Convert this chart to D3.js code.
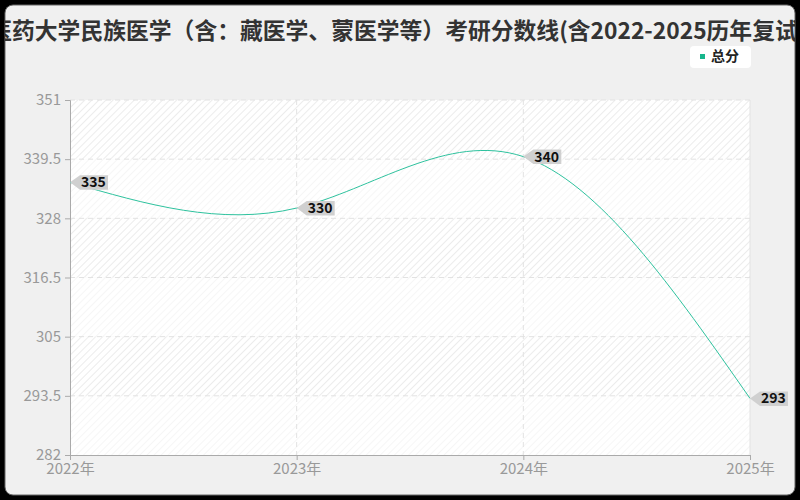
<!DOCTYPE html>
<html>
<head>
<meta charset="utf-8">
<script src="https://cdn.jsdelivr.net/npm/d3@7"></script>
<style>
  body { margin: 0; background: #000; }
  svg { display: block; font-family: "Noto Sans CJK SC", "Noto Sans", sans-serif; }
</style>
</head>
<body>
<div id="vis"></div>
<script>
// Chart data
const YEARS = ["2022年", "2023年", "2024年", "2025年"];
const SCORES = [335, 330, 340, 293];
const Y_TICKS = [282, 293.5, 305, 316.5, 328, 339.5, 351];
const SERIES_NAME = "总分";
const TITLE = "成都中医药大学民族医学（含：藏医学、蒙医学等）考研分数线(含2022-2025历年复试)";

// Frame and plot dimensions
const FRAME_WIDTH = 800;
const FRAME_HEIGHT = 500;
const MARGINS = {left: 70, right: 50, top: 100, bottom: 45};
const VIS_WIDTH = FRAME_WIDTH - MARGINS.left - MARGINS.right;
const VIS_HEIGHT = FRAME_HEIGHT - MARGINS.top - MARGINS.bottom;
const LINE_COLOR = "#2ec29e";

const FRAME = d3.select("#vis")
                .append("svg")
                  .attr("width", FRAME_WIDTH)
                  .attr("height", FRAME_HEIGHT);

const defs = FRAME.append("defs");

// hatch patterns for the plot background (strong and light bands)
function addHatch(id, color) {
  const p = defs.append("pattern")
      .attr("id", id)
      .attr("patternUnits", "userSpaceOnUse")
      .attr("width", 5).attr("height", 5)
      .attr("patternTransform", "rotate(45)");
  p.append("rect").attr("width", 5).attr("height", 5).attr("fill", "#fff");
  p.append("line")
      .attr("x1", 0).attr("y1", 0).attr("x2", 0).attr("y2", 5)
      .attr("stroke", color).attr("stroke-width", 2);
}
addHatch("hatchStrong", "#ececec");
addHatch("hatchLight", "#f6f6f6");

defs.append("clipPath").attr("id", "frameClip")
    .append("rect")
      .attr("x", 5).attr("y", 5)
      .attr("width", 790).attr("height", 490)
      .attr("rx", 8);

// background card
FRAME.append("rect")
    .attr("x", 5).attr("y", 5)
    .attr("width", 790).attr("height", 490)
    .attr("rx", 8)
    .attr("fill", "#f0f0f0")
    .attr("stroke", "#666")
    .attr("stroke-width", 1);

// scales
const X_SCALE = d3.scalePoint()
                  .domain(YEARS)
                  .range([0, VIS_WIDTH]);

const Y_SCALE = d3.scaleLinear()
                  .domain([282, 351])
                  .range([VIS_HEIGHT, 0]);

const plot = FRAME.append("g")
    .attr("transform", "translate(" + MARGINS.left + "," + MARGINS.top + ")");

// alternating hatched bands
const bands = d3.pairs(Y_TICKS).reverse();
plot.selectAll(".band")
    .data(bands)
    .enter()
    .append("rect")
      .attr("x", 0)
      .attr("y", (d) => Y_SCALE(d[1]))
      .attr("width", VIS_WIDTH)
      .attr("height", (d) => Y_SCALE(d[0]) - Y_SCALE(d[1]))
      .attr("fill", (d, i) => i % 2 === 0 ? "url(#hatchStrong)" : "url(#hatchLight)");

// horizontal grid
plot.selectAll(".hgrid")
    .data(Y_TICKS.slice(1))
    .enter()
    .append("line")
      .attr("x1", 0).attr("x2", VIS_WIDTH)
      .attr("y1", (d) => Y_SCALE(d)).attr("y2", (d) => Y_SCALE(d))
      .attr("stroke", "#e2e2e2")
      .attr("stroke-dasharray", "5,4");

// vertical grid
plot.selectAll(".vgrid")
    .data(YEARS.slice(1))
    .enter()
    .append("line")
      .attr("x1", (d) => X_SCALE(d)).attr("x2", (d) => X_SCALE(d))
      .attr("y1", 0).attr("y2", VIS_HEIGHT)
      .attr("stroke", "#e2e2e2")
      .attr("stroke-dasharray", (d, i) => i === YEARS.length - 2 ? null : "5,4");

// y axis
const yAxis = plot.append("g")
    .call(d3.axisLeft(Y_SCALE).tickValues(Y_TICKS).tickFormat((d) => d)
            .tickSize(5).tickPadding(4));
yAxis.select(".domain").attr("stroke", "#aaa");
yAxis.selectAll(".tick line").attr("stroke", "#aaa");
yAxis.selectAll(".tick text")
    .attr("fill", "#999")
    .attr("font-size", 15)
    .attr("font-family", "Noto Sans CJK SC, Noto Sans, sans-serif");

// x axis
const xAxis = plot.append("g")
    .attr("transform", "translate(0," + VIS_HEIGHT + ")")
    .call(d3.axisBottom(X_SCALE).tickSize(5).tickPadding(3));
xAxis.select(".domain").attr("stroke", "#aaa");
xAxis.selectAll(".tick line").attr("stroke", "#aaa");
xAxis.selectAll(".tick text")
    .attr("fill", "#999")
    .attr("font-size", 15)
    .attr("font-family", "Noto Sans CJK SC, Noto Sans, sans-serif");

// the line
const line = d3.line()
    .x((d, i) => X_SCALE(YEARS[i]))
    .y((d) => Y_SCALE(d))
    .curve(d3.curveNatural);

plot.append("path")
    .datum(SCORES)
    .attr("fill", "none")
    .attr("stroke", LINE_COLOR)
    .attr("stroke-width", 1)
    .attr("d", line);

// value labels with arrow tags
const tags = plot.selectAll(".tag")
    .data(SCORES)
    .enter()
    .append("g")
      .attr("transform", (d, i) => "translate(" + X_SCALE(YEARS[i]) + "," + Y_SCALE(d) + ")");

tags.append("path")
    .attr("d", "M0,0 L10,-7 L38,-7 L38,7.5 L10,7.5 Z")
    .attr("fill", "#d0d0d0");

tags.append("text")
    .attr("x", 11)
    .attr("y", 5)
    .attr("font-size", 14)
    .attr("font-weight", "bold")
    .attr("fill", "#111")
    .text((d) => d);

// legend
const legend = FRAME.append("g");
legend.append("rect")
    .attr("x", 690).attr("y", 46)
    .attr("width", 61).attr("height", 22)
    .attr("rx", 4)
    .attr("fill", "#fff");
legend.append("rect")
    .attr("x", 700).attr("y", 54)
    .attr("width", 5).attr("height", 5)
    .attr("fill", "#17b68c");
legend.append("text")
    .attr("x", 711).attr("y", 61)
    .attr("font-size", 14)
    .attr("font-weight", "bold")
    .attr("fill", "#222")
    .text(SERIES_NAME);

// title, clipped to the card
const titleText = FRAME.append("g")
    .attr("clip-path", "url(#frameClip)")
    .append("text")
      .attr("y", 39)
      .attr("font-size", 22.8)
      .attr("font-weight", "bold")
      .attr("fill", "#333")
      .text(TITLE);
const offset = titleText.node().getSubStringLength(0, 4);
titleText.attr("x", 12 - offset);
</script>
</body>
</html>
